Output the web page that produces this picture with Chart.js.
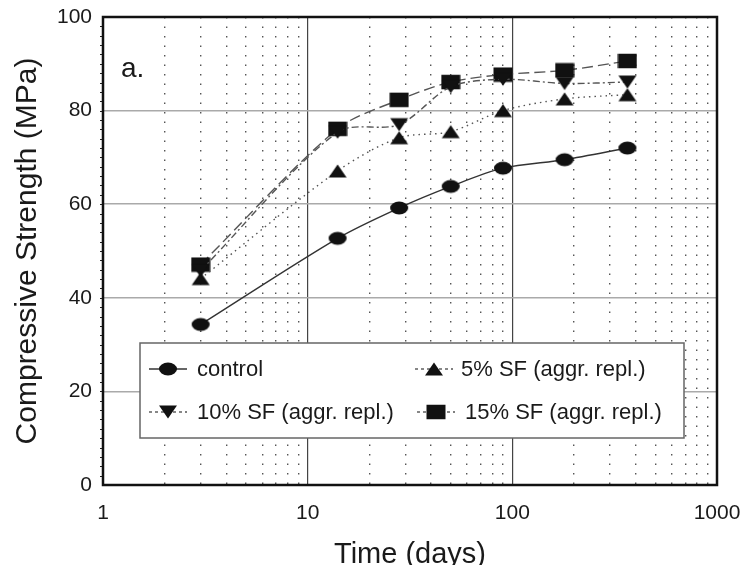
<!DOCTYPE html>
<html>
<head>
<meta charset="utf-8">
<script src="https://cdn.jsdelivr.net/npm/chart.js@4.4.1/dist/chart.umd.min.js"></script>
<style>
  body { margin: 0; background: #fff; }
  #wrap { width: 740px; height: 565px; }
</style>
</head>
<body>
<div id="wrap"><canvas id="strength" width="740" height="565"></canvas></div>
<script>
// curing time (days) and strength readings (MPa)
var days = [3, 14, 28, 50, 90, 180, 365];
var control = [34.3, 52.7, 59.2, 63.8, 67.7, 69.5, 72.0];
var sf5 = [44.1, 67.1, 74.2, 75.5, 80.0, 82.5, 83.4];
var sf10 = [45.8, 75.4, 77.0, 85.1, 86.7, 85.8, 86.1];
var sf15 = [47.1, 76.1, 82.3, 86.1, 87.7, 88.6, 90.6];
var seriesNames = ['control', '5% SF (aggr. repl.)', '10% SF (aggr. repl.)', '15% SF (aggr. repl.)'];
var xTickLabels = [1, 10, 100, 1000];
var yTickLabels = [0, 20, 40, 60, 80, 100];

var FONT = "'Liberation Sans', Arial, Helvetica, sans-serif";
var INK = '#1a1a1a';

// markers in the scan are a bit wider than tall, so make them as small canvases
function marker(kind) {
    var c = document.createElement('canvas');
    c.width = 20;
    c.height = 16;
    var g = c.getContext('2d');
    g.fillStyle = '#111';
    g.beginPath();
    if (kind === 'circle') {
        g.ellipse(10, 8, 9, 6.5, 0, 0, Math.PI * 2);
    } else if (kind === 'square') {
        g.rect(0.5, 0.75, 19, 14.5);
    } else if (kind === 'up') {
        g.moveTo(10, 1.5); g.lineTo(19, 14.5); g.lineTo(1, 14.5); g.closePath();
    } else {
        g.moveTo(10, 14.5); g.lineTo(19, 1.5); g.lineTo(1, 1.5); g.closePath();
    }
    g.fill();
    return c;
}

function pts(values) {
    return values.map(function(v, i) { return { x: days[i], y: v }; });
}

function isDecade(v) {
    var l = Math.log10(v);
    return Math.abs(l - Math.round(l)) < 1e-9;
}

var series = [
    { data: control, img: marker('circle'), color: '#333', dash: [] },
    { data: sf5, img: marker('up'), color: '#555', dash: [1.5, 4] },
    { data: sf10, img: marker('down'), color: '#555', dash: [7, 3, 2, 3] },
    { data: sf15, img: marker('square'), color: '#555', dash: [11, 5] }
];

var datasets = series.map(function(s, i) {
    return {
        label: seriesNames[i],
        data: pts(s.data),
        borderColor: s.color,
        borderWidth: 1.4,
        borderDash: s.dash,
        tension: 0.3,
        pointStyle: s.img,
        pointRadius: 9,
        fill: false
    };
});

// legend box inside the plot, plus the black frame and the "a." tag
var frameAndLegend = {
    id: 'frameAndLegend',
    afterDatasetsDraw: function(chart) {
        var ctx = chart.ctx;
        var a = chart.chartArea;
        ctx.save();

        var bx = a.left + 37, by = a.top + 326, bw = 544, bh = 95;
        ctx.fillStyle = '#fff';
        ctx.fillRect(bx, by, bw, bh);
        ctx.strokeStyle = '#666';
        ctx.lineWidth = 1.5;
        ctx.strokeRect(bx, by, bw, bh);

        var slots = [
            { mx: bx + 28, tx: bx + 57, y: by + 26 },
            { mx: bx + 294, tx: bx + 321, y: by + 26 },
            { mx: bx + 28, tx: bx + 57, y: by + 69 },
            { mx: bx + 296, tx: bx + 325, y: by + 69 }
        ];
        ctx.font = '22px ' + FONT;
        ctx.textBaseline = 'middle';
        ctx.textAlign = 'left';
        slots.forEach(function(p, i) {
            var s = series[i];
            ctx.strokeStyle = s.color;
            ctx.lineWidth = 1.4;
            ctx.setLineDash(s.dash.length ? [3, 3] : []);
            ctx.beginPath();
            ctx.moveTo(p.mx - 19, p.y);
            ctx.lineTo(p.mx + 19, p.y);
            ctx.stroke();
            ctx.setLineDash([]);
            ctx.drawImage(s.img, p.mx - 10, p.y - 8);
            ctx.fillStyle = INK;
            ctx.fillText(seriesNames[i], p.tx, p.y + 1);
        });

        ctx.font = '28px ' + FONT;
        ctx.fillStyle = INK;
        ctx.fillText('a.', a.left + 18, a.top + 52);

        // little minor ticks on the strength axis
        var y = chart.scales.y;
        ctx.strokeStyle = '#222';
        ctx.lineWidth = 1;
        for (var v = 2; v < 100; v += 2) {
            var py = Math.round(y.getPixelForValue(v)) + 0.5;
            ctx.beginPath();
            ctx.moveTo(a.left - 3, py);
            ctx.lineTo(a.left, py);
            ctx.stroke();
        }

        ctx.strokeStyle = '#111';
        ctx.lineWidth = 2.5;
        ctx.strokeRect(a.left, a.top, a.right - a.left, a.bottom - a.top);
        ctx.restore();
    }
};

var ctx = document.getElementById('strength').getContext('2d');

var chart = new Chart(ctx, {
    type: 'line',
    data: { datasets: datasets },
    options: {
        responsive: false,
        animation: false,
        events: [],
        layout: { padding: { top: 17, right: 23, left: 0, bottom: 0 } },
        plugins: {
            legend: { display: false },
            tooltip: { enabled: false }
        },
        scales: {
            x: {
                type: 'logarithmic',
                min: 1,
                max: 1000,
                afterBuildTicks: function(scale) {
                    var t = [];
                    for (var e = 0; e < 3; e++) {
                        for (var s = 1; s < 10; s++) t.push({ value: s * Math.pow(10, e) });
                    }
                    t.push({ value: 1000 });
                    scale.ticks = t;
                },
                afterFit: function(scale) {
                    scale.height = 80;
                    scale.paddingLeft = 0;
                    scale.paddingRight = 0;
                },
                ticks: {
                    autoSkip: false,
                    maxRotation: 0,
                    padding: 16,
                    color: INK,
                    font: { family: FONT, size: 21 },
                    callback: function(v) {
                        return isDecade(v) && xTickLabels.indexOf(Math.round(v)) >= 0 ? String(Math.round(v)) : '';
                    }
                },
                grid: {
                    drawTicks: false,
                    color: function(c) { return c.tick && isDecade(c.tick.value) ? '#444' : '#555'; },
                    lineWidth: function(c) { return c.tick && isDecade(c.tick.value) ? 1.2 : 1.4; }
                },
                border: {
                    display: false,
                    dash: function(c) { return c.tick && !isDecade(c.tick.value) ? [1.5, 8] : []; }
                },
                title: {
                    display: true,
                    text: 'Time (days)',
                    color: INK,
                    font: { family: FONT, size: 29, lineHeight: 0.8 },
                    padding: { top: 0, bottom: -2 }
                }
            },
            y: {
                min: 0,
                max: 100,
                afterFit: function(scale) {
                    scale.width = 103;
                    scale.paddingTop = 0;
                    scale.paddingBottom = 0;
                },
                ticks: {
                    stepSize: 20,
                    padding: 11,
                    color: INK,
                    font: { family: FONT, size: 21 },
                    callback: function(v) { return yTickLabels.indexOf(v) >= 0 ? String(v) : ''; }
                },
                grid: {
                    drawTicks: false,
                    color: function(c) { return c.tick && (c.tick.value === 0 || c.tick.value === 100) ? 'rgba(0,0,0,0)' : '#aaa'; },
                    lineWidth: 1.6
                },
                border: { display: false },
                title: {
                    display: true,
                    text: 'Compressive Strength (MPa)',
                    color: INK,
                    font: { family: FONT, size: 30, lineHeight: 0.8 },
                    padding: { top: 16, bottom: 0 }
                }
            }
        }
    },
    plugins: [frameAndLegend]
});
</script>
</body>
</html>
